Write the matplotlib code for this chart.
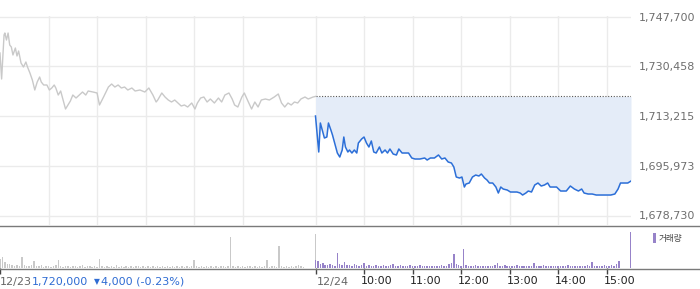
import matplotlib
matplotlib.use("Agg")
import matplotlib.pyplot as plt
from matplotlib.lines import Line2D
from matplotlib.patches import Rectangle
import matplotlib.transforms as mtransforms

# ---------------- data ----------------
# minutes since 09:00 of each session, prices
PREV_MIN = [0, 2, 5, 6, 8, 10, 12, 14, 16, 19, 21, 23, 26, 29, 32, 34, 37, 40, 43, 46,
            49, 51, 54, 58, 61, 64, 67, 69, 72, 75, 78, 81, 84, 87, 90, 94, 98, 102, 106, 109,
            115, 120, 123, 128, 131, 134, 138, 142, 146, 150, 154, 158, 163, 167, 173, 179, 184, 189, 193, 195,
            200, 204, 208, 212, 216, 220, 224, 228, 232, 237, 241, 244, 248, 252, 256, 260, 265, 270, 274, 278,
            283, 287, 290, 294, 299, 302, 307, 311, 315, 319, 323, 328, 333, 339, 344, 348, 352, 356, 360, 364,
            368, 372, 377, 381, 387, 390]
PREV_PRICE = [1735050, 1726040, 1741290, 1741980, 1739550, 1741980, 1737820, 1737130, 1734360, 1736780,
              1734010, 1735740, 1731580, 1730200, 1731930, 1730200, 1728120, 1725690, 1722230, 1725000,
              1726730, 1725000, 1723960, 1723960, 1722230, 1722920, 1723960, 1722920, 1720490, 1721880,
              1718760, 1715640, 1717030, 1718410, 1720490, 1719450, 1720490, 1721530, 1720490, 1721880,
              1721530, 1721190, 1717030, 1719800, 1721530, 1723260, 1724300, 1723260, 1723960, 1722920,
              1723260, 1722230, 1722920, 1721880, 1722230, 1721530, 1722920, 1720490, 1718070, 1718760,
              1721190, 1719800, 1718760, 1718070, 1718760, 1717720, 1716680, 1717030, 1716330, 1717720,
              1715640, 1717720, 1719450, 1719800, 1718070, 1719110, 1717720, 1719450, 1718070, 1720490,
              1721190, 1719110, 1717030, 1716330, 1719800, 1721190, 1718070, 1715640, 1718070, 1716330,
              1718760, 1719110, 1718760, 1719800, 1720840, 1717720, 1716330, 1717720, 1717030, 1718070,
              1717720, 1719110, 1719800, 1719110, 1719800, 1720000]

TODAY_MIN = [0, 4, 6, 9, 11, 14, 16, 19, 21, 25, 27, 30, 33, 35, 37, 40, 42, 45, 48, 51,
             53, 57, 60, 63, 66, 69, 72, 75, 79, 82, 86, 89, 92, 96, 100, 103, 107, 111, 115, 119,
             123, 129, 135, 138, 142, 147, 152, 156, 160, 164, 168, 171, 174, 178, 181, 184, 186, 190, 194, 198,
             202, 205, 209, 212, 215, 219, 223, 226, 229, 232, 237, 241, 245, 249, 253, 256, 260, 263, 267, 271,
             275, 279, 283, 287, 290, 294, 298, 303, 310, 315, 320, 325, 329, 332, 337, 342, 347, 351, 355, 359,
             365, 370, 374, 377, 382, 386, 390]
TODAY_PRICE = [1713210, 1700740, 1710790, 1707670, 1705590, 1705930, 1710790, 1708360, 1706630, 1702470,
               1700390, 1699000, 1701430, 1705930, 1702470, 1700740, 1701430, 1700390, 1701430, 1700390,
               1703850, 1705240, 1705930, 1703850, 1702470, 1704550, 1700740, 1700390, 1702470, 1700390,
               1701430, 1700390, 1701780, 1700040, 1699700, 1701780, 1700390, 1700390, 1700390, 1698660,
               1698310, 1698310, 1698660, 1697960, 1698660, 1698660, 1699700, 1698310, 1698660, 1697270,
               1696920, 1695540, 1692070, 1691720, 1692070, 1688600, 1689640, 1689990, 1692070, 1692760,
               1692420, 1693110, 1691720, 1691030, 1689990, 1689990, 1688600, 1686520, 1688600, 1687910,
               1687560, 1686870, 1686870, 1686870, 1686520, 1685830, 1686520, 1687220, 1686870, 1689300,
               1689990, 1688950, 1689300, 1689990, 1688600, 1688600, 1688600, 1687220, 1687220, 1688950,
               1687910, 1687220, 1687910, 1686520, 1686180, 1686180, 1685830, 1685830, 1685830, 1685830,
               1685830, 1686180, 1687910, 1689990, 1689990, 1689990, 1690680]

PREV_CLOSE = 1720000

# volume every 3 minutes from 09:00 to 15:15, plus the closing auction bar
PREV_VOL = [90, 110, 60, 45, 40, 30, 25, 35, 20, 110,
            30, 25, 20, 35, 70, 25, 20, 30, 15, 25,
            20, 15, 25, 30, 80, 20, 15, 25, 20, 15,
            20, 25, 15, 20, 30, 15, 20, 25, 15, 20,
            15, 90, 20, 15, 25, 15, 20, 15, 30, 15,
            20, 15, 25, 15, 20, 15, 20, 25, 15, 20,
            15, 20, 15, 25, 15, 20, 15, 20, 15, 25,
            15, 20, 15, 20, 15, 20, 15, 20, 15, 25,
            80, 20, 15, 20, 15, 25, 15, 20, 15, 20,
            15, 20, 25, 15, 20, 310, 20, 15, 20, 15,
            20, 15, 20, 25, 15, 20, 15, 20, 15, 20,
            80, 15, 20, 25, 15, 220, 20, 15, 20, 15,
            20, 15, 25, 30, 20, 15]
PREV_CLOSE_VOL = 340

TODAY_VOL = [80, 70, 40, 50, 35, 30, 45, 30, 25, 150,
             40, 30, 60, 35, 30, 25, 40, 30, 25, 30,
             50, 25, 30, 20, 25, 30, 20, 25, 35, 20,
             25, 30, 45, 20, 25, 30, 20, 25, 20, 30,
             20, 25, 20, 30, 20, 25, 20, 20, 25, 20,
             25, 20, 30, 20, 25, 40, 50, 140, 40, 30,
             25, 190, 30, 20, 25, 20, 30, 20, 25, 20,
             20, 25, 20, 20, 30, 50, 20, 20, 30, 20,
             25, 20, 20, 30, 20, 25, 20, 25, 20, 20,
             50, 20, 25, 20, 30, 20, 25, 20, 20, 25,
             20, 25, 20, 20, 30, 20, 25, 20, 20, 25,
             20, 25, 30, 20, 60, 25, 20, 25, 20, 30,
             25, 20, 30, 25, 40, 70]
TODAY_CLOSE_VOL = 360

Y_TICKS = [1678730, 1695973, 1713215, 1730458, 1747700]
X_TICKS = [0, 390, 450, 510, 570, 630, 690, 750]
X_LABELS = ["12/23", "12/24", "10:00", "11:00", "12:00", "13:00", "14:00", "15:00"]
INFO_PRICE = "1,720,000"
INFO_CHANGE = "4,000 (-0.23%)"
VOL_LABEL = "거래량"

# ---------------- style ----------------
W, H = 700, 289
GRID = "#ebebeb"
GRAY_LINE = "#c9c9c9"
BLUE_LINE = "#2c6fd8"
FILL = "#e4ecf8"
PURPLE = "#9783c9"
INFO_BLUE = "#2f6cd3"
SESSION = 390

px_price = (Y_TICKS[-1] - Y_TICKS[0]) / 199.0
p_top = Y_TICKS[-1] + 1.0 * px_price
p_bot = Y_TICKS[-1] - (225 - 16.5) * px_price

fig = plt.figure(figsize=(W / 100, H / 100), dpi=100)
fig.patch.set_facecolor("white")

def fx(x):
    return x / W

def fy(y):
    return 1 - y / H

ax = fig.add_axes([0, fy(225), fx(631), (225 - 15.5) / H])
axv = fig.add_axes([0, fy(268), fx(631), 43 / H])

# price panel
ax.set_xlim(0, 2 * SESSION)
ax.set_ylim(p_bot, p_top)
for s in ax.spines.values():
    s.set_visible(False)
grid_x = [60, 120, 180, 240, 300, 390, 450, 510, 570, 630, 690, 750]
for gx in grid_x:
    ax.axvline(gx, color=GRID, lw=1, zorder=0)
for gy in Y_TICKS:
    ax.axhline(gy, color=GRID, lw=1, zorder=0)

ax.plot(PREV_MIN, PREV_PRICE, color=GRAY_LINE, lw=1.0, zorder=3)
t2 = [SESSION + m for m in TODAY_MIN]
ax.fill_between(t2, TODAY_PRICE, PREV_CLOSE, color=FILL, lw=0, zorder=1)
ax.plot(t2, TODAY_PRICE, color=BLUE_LINE, lw=1.1, zorder=3)
ax.hlines(PREV_CLOSE, SESSION, 2 * SESSION, colors="#555555", linestyles=(0, (1, 1.5)), lw=0.8, zorder=2)

ax.set_xticks([])
ax.yaxis.tick_right()
ax.set_yticks(Y_TICKS)
ax.set_yticklabels([f"{v:,}" for v in Y_TICKS], color="#6e6e6e", fontsize=8)
ax.tick_params(axis="y", length=0, pad=5.8)

# volume panel
axv.set_xlim(0, 2 * SESSION)
axv.set_ylim(0, 430)
for s in axv.spines.values():
    s.set_visible(False)
m1 = [3 * i for i in range(len(PREV_VOL))]
m2 = [SESSION + 3 * i for i in range(len(TODAY_VOL))]
axv.bar(m1, PREV_VOL, width=1.8, color=GRAY_LINE, lw=0)
axv.bar([SESSION - 0.6], [PREV_CLOSE_VOL], width=1.2, color=GRAY_LINE, lw=0)
axv.bar(m2, TODAY_VOL, width=1.8, color=PURPLE, lw=0)
axv.bar([2 * SESSION - 0.6], [TODAY_CLOSE_VOL], width=1.2, color=PURPLE, lw=0)
axv.set_yticks([])
axv.set_xticks(X_TICKS)
axv.set_xticklabels([])
axv.tick_params(axis="x", length=4, width=1, color="#444444", direction="out")

trans = mtransforms.blended_transform_factory(axv.transData, axv.transAxes)
for i, (t, lab) in enumerate(zip(X_TICKS, X_LABELS)):
    if i == 0:
        dx, col = 0, "#666666"
    elif i == 1:
        dx, col = 1, "#666666"
    else:
        dx, col = -3, "#222222"
    axv.annotate(lab, xy=(t, 0), xycoords=trans, xytext=(dx, -13.5),
                 textcoords="offset pixels", ha="left", va="center",
                 fontsize=8, color=col, annotation_clip=False)
axv.annotate(INFO_PRICE, xy=(0, 0), xycoords=trans, xytext=(32, -13.5),
             textcoords="offset pixels", ha="left", va="center",
             fontsize=8, color=INFO_BLUE, annotation_clip=False)
axv.annotate("▼", xy=(0, 0), xycoords=trans, xytext=(94, -13.5),
             textcoords="offset pixels", ha="left", va="center",
             fontsize=5.5, color=INFO_BLUE, annotation_clip=False)
axv.annotate(INFO_CHANGE, xy=(0, 0), xycoords=trans, xytext=(101, -13.5),
             textcoords="offset pixels", ha="left", va="center",
             fontsize=8, color=INFO_BLUE, annotation_clip=False)

# separators across full width
fig.add_artist(Line2D([0, 1], [fy(225.5), fy(225.5)], color="#7a7a7a", lw=1))
fig.add_artist(Line2D([0, 1], [fy(268.5), fy(268.5)], color="#7a7a7a", lw=1))

# volume legend
fig.add_artist(Rectangle((fx(653), fy(243)), 3 / W, 10 / H, color=PURPLE, lw=0))
fig.text(fx(659), fy(238), VOL_LABEL, ha="left", va="center", fontsize=6.2,
         color="#444444", family=["Noto Sans CJK KR", "DejaVu Sans"])

fig.savefig("out.png", dpi=100)
